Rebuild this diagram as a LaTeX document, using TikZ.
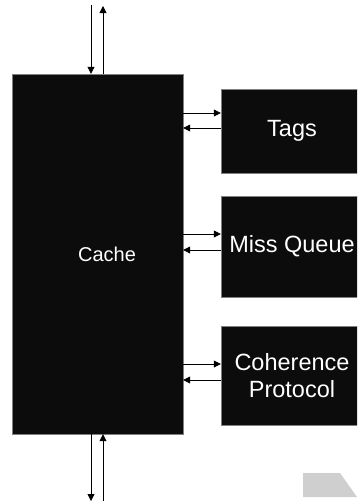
\documentclass[tikz,border=0pt]{standalone}
\usepackage{fontspec}
\setmainfont{Liberation Sans}
\usetikzlibrary{arrows.meta}

\definecolor{boxfill}{RGB}{12,12,12}
\definecolor{shadegray}{RGB}{207,207,207}

\tikzset{
  unit/.style={draw=gray, fill=boxfill, inner sep=0pt, text=white, font=\fontsize{23.5}{27}\selectfont, align=center},
  bus/.style={-{Triangle[length=7pt,width=7pt]}, line width=0.8pt, black},
}

\begin{document}
\begin{tikzpicture}[x=1pt,y=-1pt]
        \useasboundingbox (0,0) rectangle (357,501);
        \clip (0,0) rectangle (357,501);
        % blocks
        \node[unit, minimum width=171pt, minimum height=360pt] (cache) at (97.5,254) {};
        \node[text=white, font=\fontsize{20}{24}\selectfont, inner sep=0pt] (cachetext) at (107,254) {Cache};
        \node[unit, minimum width=142pt, minimum height=84pt] (tags) at (292,131) {Tags};
        \node[unit, minimum width=142pt, minimum height=101pt] (missq) at (292,246.5) {Miss Queue};
        \node[unit, minimum width=142pt, minimum height=99pt] (coher) at (292,375.5) {Coherence\\Protocol};
        % free ends
        \coordinate (topin) at (91,5);
        \coordinate (topout) at (103,6);
        \coordinate (botout) at (91,501);
        \coordinate (botin) at (103,503);
        % buses
        \draw[bus] (topin) -- (topin |- cache.north);
        \draw[bus] (topout |- cache.north) -- (topout);
        \draw[bus] (cache.south -| botout) -- (botout);
        \draw[bus] (botin) -- (botin |- cache.south);
        \draw[bus] (cache.east |- 0,113) -- (tags.west |- 0,113);
        \draw[bus] (tags.west |- 0,128) -- (cache.east |- 0,128);
        \draw[bus] (cache.east |- 0,234) -- (missq.west |- 0,234);
        \draw[bus] (missq.west |- 0,250) -- (cache.east |- 0,250);
        \draw[bus] (cache.east |- 0,364) -- (coher.west |- 0,364);
        \draw[bus] (coher.west |- 0,380) -- (cache.east |- 0,380);
        % corner shade
        \fill[shadegray] (303,473) -- (340,473) -- (357,497) -- (303,497) -- cycle;
\end{tikzpicture}
\end{document}
